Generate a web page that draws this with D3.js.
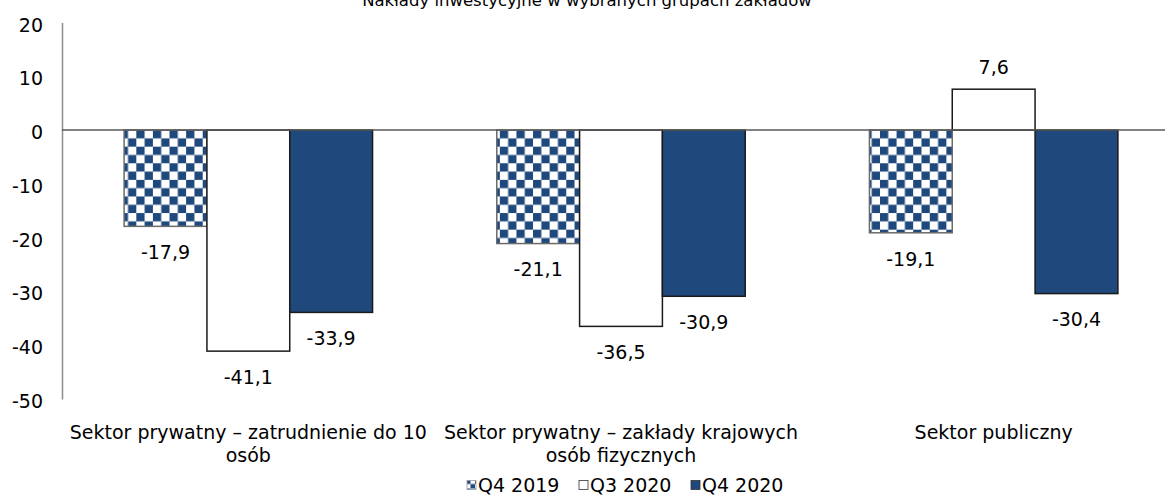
<!DOCTYPE html>
<html>
<head>
<meta charset="utf-8">
<script src="https://cdn.jsdelivr.net/npm/d3@7/dist/d3.min.js"></script>
<style>
  html, body { margin: 0; padding: 0; background: #fff; }
  svg { display: block; font-family: "DejaVu Sans", Verdana, sans-serif; }
</style>
</head>
<body>
<svg id="chart" width="1165" height="497"></svg>
<script>
// Investment outlays by selected groups of establishments
const title = "Nakłady inwestycyjne w wybranych grupach zakładów";
const categories = [
  ["Sektor prywatny – zatrudnienie do 10", "osób"],
  ["Sektor prywatny – zakłady krajowych", "osób fizycznych"],
  ["Sektor publiczny"]
];
const seriesNames = ["Q4 2019", "Q3 2020", "Q4 2020"];
const q4_2019 = [-17.9, -21.1, -19.1];
const q3_2020 = [-41.1, -36.5, 7.6];
const q4_2020 = [-33.9, -30.9, -30.4];
const yTicks = [20, 10, 0, -10, -20, -30, -40, -50];

const seriesValues = [q4_2019, q3_2020, q4_2020];
const navy = "#1f497d";
const FS = 19;

const svg = d3.select("#chart");
const defs = svg.append("defs");

const plotLeft = 62, plotRight = 1180;
const y = d3.scaleLinear().domain([-50, 20]).range([399, 22.5]);
const x0 = d3.scaleBand().domain(d3.range(categories.length)).range([plotLeft, plotRight]);
const x1 = d3.scaleBand().domain(d3.range(seriesNames.length))
  .range([0, x0.bandwidth()]).paddingOuter(0.75).paddingInner(0);

// checkerboard fill, one tile origin per bar so each starts on a dark cell
function checker(id, cell, ox, oy) {
  const p = defs.append("pattern")
    .attr("id", id)
    .attr("patternUnits", "userSpaceOnUse")
    .attr("x", ox).attr("y", oy)
    .attr("width", cell * 2).attr("height", cell * 2);
  p.append("rect").attr("width", cell * 2).attr("height", cell * 2).attr("fill", "#fff");
  p.append("rect").attr("width", cell).attr("height", cell).attr("fill", navy);
  p.append("rect").attr("x", cell).attr("y", cell).attr("width", cell).attr("height", cell).attr("fill", navy);
}
categories.forEach((c, i) => checker("checker" + i, 8.3, x0(i) + x1(0), y(0)));

const fmt = v => d3.format(".1f")(v).replace(".", ",").replace("\u2212", "-");
const strokes = ["#6b6b6b", "#1a1a1a", "#1a1a1a"];

// title (sits partly above the top edge)
svg.append("text")
  .attr("x", 587).attr("y", 6)
  .attr("text-anchor", "middle")
  .attr("font-size", 16.5)
  .attr("fill", "#000")
  .text(title);

// y axis
const yAxis = d3.axisLeft(y).tickValues(yTicks).tickSize(0).tickPadding(19)
  .tickFormat(d => String(d));
const gy = svg.append("g").attr("transform", `translate(${plotLeft},0)`).call(yAxis);
gy.select(".domain").attr("stroke", "#8c8c8c").attr("stroke-width", 1.5);
gy.selectAll("text").attr("font-size", FS).attr("fill", "#000")
  .attr("font-family", "DejaVu Sans, sans-serif").attr("dy", "0.45em");

// bars with value labels
const groups = svg.append("g").selectAll("g")
  .data(categories).join("g")
  .attr("transform", (d, i) => `translate(${x0(i)},0)`);

groups.each(function(cat, ci) {
  const g = d3.select(this);
  const fills = [`url(#checker${ci})`, "#ffffff", navy];
  seriesValues.forEach((vals, si) => {
    const v = vals[ci];
    g.append("rect")
      .attr("x", x1(si))
      .attr("y", y(Math.max(0, v)))
      .attr("width", x1.bandwidth())
      .attr("height", Math.abs(y(v) - y(0)))
      .attr("fill", fills[si])
      .attr("stroke", strokes[si])
      .attr("stroke-width", 1.5);
    g.append("text")
      .attr("x", x1(si) + x1.bandwidth() / 2)
      .attr("y", v < 0 ? y(v) + 26 : y(v) - 22)
      .attr("dy", "0.36em")
      .attr("text-anchor", "middle")
      .attr("font-size", FS)
      .attr("fill", "#000")
      .text(fmt(v));
  });
});

// zero line
svg.append("line")
  .attr("x1", plotLeft).attr("x2", plotRight)
  .attr("y1", y(0)).attr("y2", y(0))
  .attr("stroke", "#595959").attr("stroke-width", 1.5);

// category labels
const catLabels = svg.append("g").selectAll("text")
  .data(categories).join("text")
  .attr("text-anchor", "middle")
  .attr("font-size", FS)
  .attr("fill", "#000")
  .attr("transform", (d, i) => `translate(${x0(i) + x0.bandwidth() / 2},439)`);
catLabels.selectAll("tspan").data(d => d).join("tspan")
  .attr("x", 0)
  .attr("dy", (d, i) => i === 0 ? 0 : 23)
  .text(d => d);

// legend
checker("checkerSmall", 4.5, 467, 480.5);
const legendItems = [
  { name: seriesNames[0], fill: "url(#checkerSmall)", stroke: "#9a9a9a", x: 467 },
  { name: seriesNames[1], fill: "#fff", stroke: "#333", x: 579 },
  { name: seriesNames[2], fill: navy, stroke: "#333", x: 691 }
];
const leg = svg.append("g").selectAll("g").data(legendItems).join("g")
  .attr("transform", d => `translate(${d.x},485)`);
leg.append("rect")
  .attr("x", 0).attr("y", -4.5).attr("width", 9).attr("height", 9)
  .attr("fill", d => d.fill).attr("stroke", d => d.stroke).attr("stroke-width", 0.8);
leg.append("text")
  .attr("x", 11).attr("dy", "0.36em")
  .attr("font-size", FS).attr("fill", "#000")
  .text(d => d.name);
</script>
</body>
</html>
